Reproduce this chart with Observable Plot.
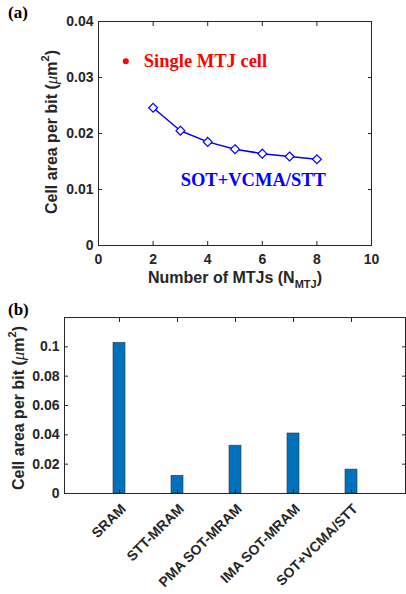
<!DOCTYPE html>
<html>
<head>
<meta charset="utf-8">
<script src="https://cdn.jsdelivr.net/npm/d3@7"></script>
<script src="https://cdn.jsdelivr.net/npm/@observablehq/plot@0.6"></script>
<style>
  html, body { margin: 0; padding: 0; background: #fff; }
  #wrap { position: relative; width: 406px; height: 594px; }
  .panel { position: relative; width: 406px; }
  .tag { position: absolute; left: 8px; font-family: "Liberation Serif", "Times New Roman", serif; font-weight: bold; font-size: 17px; color: #000; }
</style>
</head>
<body>
<div id="wrap">
  <div class="panel" id="pa"><div class="tag" style="top:3px">(a)</div></div>
  <div class="panel" id="pb"><div class="tag" style="top:0px">(b)</div></div>
</div>
<script>
// ---------- Panel (a) data ----------
const nMTJ = [2, 3, 4, 5, 6, 7, 8];
const areaSOT = [0.0246, 0.0205, 0.0185, 0.0172, 0.0164, 0.0159, 0.0154];
const singleN = [1];
const singleArea = [0.0329];
const singleLabel = ["Single MTJ cell"];
const seriesLabel = ["SOT+VCMA/STT"];
const xTicksA = [0, 2, 4, 6, 8, 10];
const yTicksA = [0, 0.01, 0.02, 0.03, 0.04];

// ---------- Panel (b) data ----------
const categories = ["SRAM", "STT-MRAM", "PMA SOT-MRAM", "IMA SOT-MRAM", "SOT+VCMA/STT"];
const areaPerBit = [0.1027, 0.0120, 0.0326, 0.0409, 0.0163];
const yTicksB = [0, 0.02, 0.04, 0.06, 0.08, 0.1];

const ink = "#262626";
const fmt = d => String(d);
const baseStyle = {fontFamily: "'Liberation Sans', Arial, sans-serif", fontSize: "14px", fontWeight: "bold", color: ink, background: "transparent", overflow: "visible"};

// ----- Panel (a) -----
const chartA = Plot.plot({
  width: 406, height: 300,
  marginLeft: 98, marginRight: 35, marginTop: 21, marginBottom: 55,
  style: baseStyle,
  x: {domain: [0, 10]},
  y: {domain: [0, 0.04]},
  marks: [
    Plot.axisX({anchor: "bottom", ticks: xTicksA, tickSize: -4, tickPadding: 13, label: null, tickFormat: fmt}),
    Plot.axisX({anchor: "top", ticks: xTicksA, tickSize: -4, label: null, tickFormat: () => ""}),
    Plot.axisY({anchor: "left", ticks: yTicksA, tickSize: -4, tickPadding: 9, label: null, tickFormat: fmt}),
    Plot.axisY({anchor: "right", ticks: yTicksA, tickSize: -4, label: null, tickFormat: () => ""}),
    Plot.frame({stroke: ink, strokeWidth: 1}),
    Plot.line(nMTJ, {x: nMTJ, y: areaSOT, stroke: "#0000ff", strokeWidth: 1.5}),
    Plot.dot(nMTJ, {x: nMTJ, y: areaSOT, symbol: "diamond2", r: 4, stroke: "#0000ff", fill: "#fff", strokeWidth: 1.2}),
    Plot.dot(singleN, {x: singleN, y: singleArea, r: 3, fill: "#ff0000"}),
    Plot.text(singleLabel, {x: singleN, y: singleArea, text: d => d, dx: 18, textAnchor: "start",
      fill: "#ff0000", fontFamily: "'Liberation Serif', 'Times New Roman', serif", fontWeight: "bold", fontSize: 18.5}),
    Plot.text(seriesLabel, {x: [nMTJ[nMTJ.length - 1]], y: [areaSOT[areaSOT.length - 1]], text: d => d, dx: 9, dy: 21, textAnchor: "end",
      fill: "#0000ff", fontFamily: "'Liberation Serif', 'Times New Roman', serif", fontWeight: "bold", fontSize: 18.5})
  ]
});
document.getElementById("pa").appendChild(chartA);

function yLabel(svg, cx, cy) {
  const t = d3.select(svg).append("text")
    .attr("transform", `translate(${cx},${cy}) rotate(-90)`)
    .attr("text-anchor", "middle").attr("dominant-baseline", "middle")
    .attr("fill", ink).attr("font-size", 16).attr("font-weight", "bold")
    .attr("font-family", "'Liberation Sans', Arial, sans-serif");
  t.append("tspan").text("Cell area per bit (");
  t.append("tspan").attr("font-style", "italic").attr("font-weight", "normal").attr("font-family", "'Liberation Serif', serif").attr("font-size", 17).text("μ");
  t.append("tspan").text("m");
  t.append("tspan").attr("dy", -7).attr("font-size", 11).text("2");
  t.append("tspan").attr("dy", 7).text(")");
}
yLabel(chartA, 53, 132);
{
  const t = d3.select(chartA).append("text")
    .attr("x", 235).attr("y", 283).attr("text-anchor", "middle")
    .attr("fill", ink).attr("font-size", 16).attr("font-weight", "bold")
    .attr("font-family", "'Liberation Sans', Arial, sans-serif");
  t.append("tspan").text("Number of MTJs (N");
  t.append("tspan").attr("dy", 5).attr("font-size", 11).text("MTJ");
  t.append("tspan").attr("dy", -5).text(")");
}

// ----- Panel (b) -----
const chartB = Plot.plot({
  width: 406, height: 294,
  marginLeft: 64, marginRight: 1, marginTop: 17, marginBottom: 101,
  style: baseStyle,
  x: {type: "band", domain: categories, paddingInner: 0.8, paddingOuter: 0.79},
  y: {domain: [0, 0.12]},
  marks: [
    Plot.barY(categories, {x: categories, y: areaPerBit, fill: "#0072bd", stroke: "#333", strokeWidth: 0.6}),
    Plot.axisX({anchor: "bottom", tickSize: -4, label: null, tickFormat: () => ""}),
    Plot.axisX({anchor: "bottom", tickSize: 0, tickPadding: 13, dx: 4, tickRotate: -45, label: null}),
    Plot.axisX({anchor: "top", tickSize: -4, label: null, tickFormat: () => ""}),
    Plot.axisY({anchor: "left", ticks: yTicksB, tickSize: -4, tickPadding: 9, label: null, tickFormat: fmt}),
    Plot.axisY({anchor: "right", ticks: yTicksB, tickSize: -4, label: null, tickFormat: () => ""}),
    Plot.frame({stroke: ink, strokeWidth: 1})
  ]
});
document.getElementById("pb").appendChild(chartB);
yLabel(chartB, 20, 108);
</script>
</body>
</html>
